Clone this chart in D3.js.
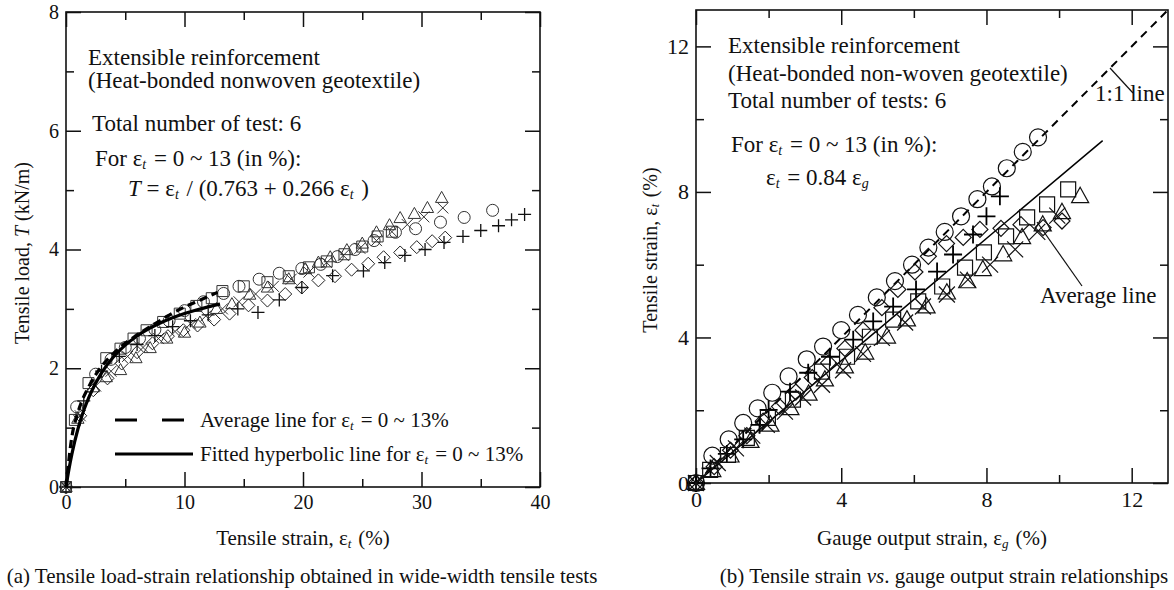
<!DOCTYPE html>
<meta charset="utf-8">
<head>
<script src="https://cdn.jsdelivr.net/npm/d3@7"></script>
<style>
body { margin: 0; background: #fff; }
text { font-family: "Liberation Serif", "Times New Roman", serif; fill: #111; }
.axis path { display: none; }
.axis line { stroke: #111; stroke-width: 1.5px; }
.axis text { font-family: "Liberation Serif", serif; fill: #111; }
</style>
</head>
<body>
<svg id="fig" width="1174" height="590"></svg>
<script>

// ---- (a) load-strain data, [strain %, load kN/m] ----
var loadCircle = [[0,0],[0.9,1.35],[2.5,1.9],[3.8,2.15],[5,2.35],[6.2,2.5],[7.5,2.65],[8.7,2.8],[10,2.97],[11.6,3.12],[13.3,3.26],[14.6,3.38],[16.3,3.5],[18,3.6],[19.9,3.68],[21.5,3.75],[22.9,3.88],[24.4,4.0],[26,4.15],[27.8,4.29],[29.5,4.35],[31.6,4.46],[33.6,4.54],[36,4.66]];
var loadSquare = [[0,0],[0.75,1.13],[1.9,1.75],[3.4,2.17],[4.6,2.33],[5.7,2.5],[6.8,2.64],[8.2,2.78],[9.6,2.92],[11,3.05],[12.3,3.18],[13.2,3.3],[15,3.38],[17,3.45],[18.8,3.55],[20.5,3.7],[22,3.8],[23.5,3.92],[25,4.05],[26.3,4.22],[27.5,4.3]];
var loadTriangle = [[0,0],[1.0,1.15],[2.3,1.68],[3.4,1.85],[4.6,1.97],[5.9,2.17],[7.1,2.34],[8.5,2.5],[10,2.6],[11.3,2.77],[12.7,3.0],[14,3.08],[15.5,3.24],[17,3.36],[18.8,3.5],[20.2,3.67],[21.3,3.78],[22.3,3.87],[23.7,3.99],[25,4.1],[26.2,4.29],[27.3,4.41],[28.2,4.53],[29.4,4.6],[30.5,4.7],[31.7,4.87]];
var loadCross = [[0,0],[1.2,1.2],[2.5,1.7],[3.8,1.95],[5.2,2.2],[6.5,2.35],[7.8,2.5],[9.2,2.62],[10.5,2.75],[11.8,2.88],[13.2,3.0],[14.6,3.12],[16,3.25],[17.5,3.38],[19,3.5],[20.5,3.62],[22,3.78],[23.4,3.9],[24.8,4.02],[26.2,4.15],[27.5,4.3],[28.8,4.42],[30.2,4.55],[31.8,4.7]];
var loadDiamond = [[0,0],[1.2,1.2],[2.3,1.63],[3.5,1.83],[4.7,2.08],[6.0,2.27],[7.3,2.42],[8.6,2.54],[9.9,2.64],[11.1,2.72],[12.5,2.82],[13.8,2.92],[15.4,3.06],[17,3.14],[18.5,3.25],[19.9,3.36],[21.3,3.48],[22.7,3.55],[24.1,3.66],[25.5,3.76],[26.8,3.87],[28.2,3.95],[29.6,4.04],[30.9,4.14],[32,4.2]];
var loadPlus = [[0,0],[1.5,1.45],[3,1.95],[4.5,2.2],[6,2.4],[7.5,2.55],[9,2.7],[10.5,2.8],[12,2.9],[14.5,3.0],[16.2,2.94],[18,3.15],[19.9,3.36],[22.5,3.56],[25.1,3.64],[26.9,3.78],[28.6,3.9],[30.3,4.0],[31.9,4.12],[33.5,4.22],[35,4.32],[36.5,4.4],[37.6,4.5],[38.7,4.59]];

// average line and fitted hyperbola, eps = 0 ~ 13 %
var avgStrain = [0, 0.5, 1, 2, 3, 4, 5, 6, 7, 8, 9, 10, 11, 12, 12.8];
var avgLoad = [0, 0.85, 1.25, 1.72, 2.03, 2.25, 2.42, 2.56, 2.69, 2.81, 2.93, 3.03, 3.12, 3.21, 3.28];
var fitStrain = [0, 0.25, 0.5, 1, 1.5, 2, 3, 4, 5, 6, 7, 8, 9, 10, 11, 12, 13];
var fitLoad = [0, 0.301, 0.558, 0.972, 1.291, 1.544, 1.922, 2.189, 2.389, 2.543, 2.667, 2.767, 2.851, 2.921, 2.982, 3.034, 3.080];

// ---- (b) tensile strain vs gauge strain, [gauge %, tensile %] ----
var gaugeCircle = [[0,0],[0.45,0.75],[0.9,1.2],[1.3,1.65],[1.7,2.05],[2.1,2.48],[2.55,2.93],[3.05,3.4],[3.5,3.75],[4.0,4.2],[4.46,4.62],[4.98,5.1],[5.48,5.55],[5.95,6.0],[6.4,6.47],[6.85,6.9],[7.3,7.33],[7.75,7.8],[8.15,8.15],[8.56,8.65],[9.0,9.1],[9.42,9.5]];
var gaugeDiamond = [[0,0],[0.5,0.45],[0.95,0.9],[1.4,1.3],[1.85,1.7],[2.3,2.1],[2.75,2.5],[3.2,2.9],[3.65,3.3],[4.1,3.7],[4.6,4.2],[5.12,4.82],[5.56,5.32],[6.03,5.8],[6.4,6.23],[6.9,6.58],[7.36,6.75],[7.82,6.97],[8.4,7.0],[8.95,7.1],[9.56,7.02],[10.08,7.2]];
var gaugePlus = [[0,0],[0.4,0.4],[0.85,0.8],[1.3,1.2],[1.75,1.6],[2.0,2.01],[2.59,2.51],[3.09,3.03],[3.69,3.47],[4.33,3.94],[4.88,4.44],[5.43,4.85],[6.06,5.32],[6.64,5.81],[7.08,6.28],[7.63,6.83],[8.0,7.33],[8.37,7.88]];
var gaugeSquare = [[0,0],[0.39,0.36],[0.88,0.77],[1.4,1.24],[1.98,1.79],[2.67,2.29],[3.47,3.06],[4.16,3.47],[4.79,4.02],[5.43,4.49],[6.12,4.99],[6.78,5.4],[7.41,5.92],[7.93,6.34],[8.54,6.78],[9.12,7.3],[9.67,7.66],[10.25,8.07]];
var gaugeTriangle = [[0,0],[0.45,0.35],[0.95,0.75],[1.5,1.15],[2.05,1.6],[2.6,2.05],[3.1,2.45],[3.55,2.84],[4.1,3.2],[4.66,3.58],[5.26,4.02],[5.81,4.49],[6.35,4.85],[6.91,5.23],[7.47,5.54],[7.9,5.87],[8.46,6.28],[8.98,6.75],[9.55,7.1],[10.08,7.44],[10.58,7.88]];
var gaugeCross = [[0,0],[0.6,0.55],[1.1,0.95],[1.55,1.3],[1.95,1.6],[2.45,1.96],[2.95,2.35],[3.47,2.7],[4.05,3.1],[4.6,3.55],[5.12,3.99],[5.76,4.41],[6.25,4.85],[6.91,5.18],[7.49,5.59],[8.1,6.0],[8.79,6.42],[9.4,6.9],[9.95,7.35]];

var oneToOneG = [0, 13], oneToOneT = [0, 13];
var avgLineG = [0, 11.2], avgLineT = [0, 9.41];

var svg = d3.select("#fig");

// scales
var xL = d3.scaleLinear().domain([0, 40]).range([66, 540]);
var yL = d3.scaleLinear().domain([0, 8]).range([487, 12]);
var xR = d3.scaleLinear().domain([0, 13]).range([696, 1168]);
var yR = d3.scaleLinear().domain([0, 13]).range([483, 10]);

function markerPath(type, s) {
  var p = d3.path();
  if (type == "circle") {
    p.moveTo(s, 0); p.arc(0, 0, s, 0, 2 * Math.PI);
  } else if (type == "square") {
    p.rect(-s, -s, 2 * s, 2 * s);
  } else if (type == "triangle") {
    p.moveTo(0, -s); p.lineTo(s * 0.95, s * 0.7); p.lineTo(-s * 0.95, s * 0.7); p.closePath();
  } else if (type == "diamond") {
    p.moveTo(0, -s); p.lineTo(s, 0); p.lineTo(0, s); p.lineTo(-s, 0); p.closePath();
  } else if (type == "plus") {
    p.moveTo(-s, 0); p.lineTo(s, 0); p.moveTo(0, -s); p.lineTo(0, s);
  } else if (type == "cross") {
    p.moveTo(-s, -s); p.lineTo(s, s); p.moveTo(s, -s); p.lineTo(-s, s);
  }
  return p.toString();
}

function drawMarkers(data, type, s, x, y, color, width) {
  svg.append("g").selectAll("path")
    .data(data)
    .enter().append("path")
    .attr("transform", function(d) { return "translate(" + x(d[0]) + "," + y(d[1]) + ")"; })
    .attr("d", markerPath(type, s))
    .style("fill", "none")
    .style("stroke", color)
    .style("stroke-width", width);
}

// frame with inward major/minor ticks on all four sides
function drawFrame(x, y, xMajor, xMinor, yMajor, yMinor, fontSize) {
  var x0 = x.range()[0], x1 = x.range()[1], y0 = y.range()[0], y1 = y.range()[1];

  svg.append("g").attr("class", "axis").attr("transform", "translate(0," + y0 + ")")
    .call(d3.axisBottom(x).tickValues(xMajor).tickSize(-15).tickPadding(8).tickFormat(d3.format("d")))
    .selectAll("text").style("font-size", fontSize + "px");
  svg.append("g").attr("class", "axis").attr("transform", "translate(0," + y0 + ")")
    .call(d3.axisBottom(x).tickValues(xMinor).tickSize(-8).tickFormat(""));
  svg.append("g").attr("class", "axis").attr("transform", "translate(0," + y1 + ")")
    .call(d3.axisTop(x).tickValues(xMajor).tickSize(-15).tickFormat(""));
  svg.append("g").attr("class", "axis").attr("transform", "translate(0," + y1 + ")")
    .call(d3.axisTop(x).tickValues(xMinor).tickSize(-8).tickFormat(""));

  svg.append("g").attr("class", "axis").attr("transform", "translate(" + x0 + ",0)")
    .call(d3.axisLeft(y).tickValues(yMajor).tickSize(-15).tickPadding(7).tickFormat(d3.format("d")))
    .selectAll("text").style("font-size", fontSize + "px");
  svg.append("g").attr("class", "axis").attr("transform", "translate(" + x0 + ",0)")
    .call(d3.axisLeft(y).tickValues(yMinor).tickSize(-8).tickFormat(""));
  svg.append("g").attr("class", "axis").attr("transform", "translate(" + x1 + ",0)")
    .call(d3.axisRight(y).tickValues(yMajor).tickSize(-15).tickFormat(""));
  svg.append("g").attr("class", "axis").attr("transform", "translate(" + x1 + ",0)")
    .call(d3.axisRight(y).tickValues(yMinor).tickSize(-8).tickFormat(""));

  svg.append("rect")
    .attr("x", x0).attr("y", y1)
    .attr("width", x1 - x0).attr("height", y0 - y1)
    .style("fill", "none").style("stroke", "#111").style("stroke-width", 1.6);
}

// write a line of text; parts are [string, style] where style is "", "i" (italic) or "sub"
function richText(x, y, size, parts, anchor, rotate) {
  var t = svg.append("text")
    .attr("x", x).attr("y", y)
    .style("font-size", size + "px")
    .attr("text-anchor", anchor || "start");
  if (rotate) t.attr("transform", "rotate(-90," + x + "," + y + ")");
  parts.forEach(function(p) {
    var s = t.append("tspan").text(p[0]);
    if (p[1] == "i") s.style("font-style", "italic");
    if (p[1] == "sub") {
      s.style("font-style", "italic").style("font-size", Math.round(size * 0.62) + "px").attr("dy", size * 0.12);
      t.append("tspan").attr("dy", -size * 0.12).text("\u200a");
    }
  });
  return t;
}

// ================= (a) =================
drawFrame(xL, yL, [0, 10, 20, 30, 40], [5, 15, 25, 35], [0, 2, 4, 6, 8], [1, 3, 5, 7], 20);

drawMarkers(loadCircle, "circle", 6, xL, yL, "#333", 1);
drawMarkers(loadSquare, "square", 5.5, xL, yL, "#333", 1);
drawMarkers(loadTriangle, "triangle", 6.5, xL, yL, "#333", 1);
drawMarkers(loadCross, "cross", 5.5, xL, yL, "#333", 1);
drawMarkers(loadDiamond, "diamond", 6.5, xL, yL, "#222", 1);
drawMarkers(loadPlus, "plus", 6.5, xL, yL, "#111", 1.3);

var lineL = d3.line().x(function(d) { return xL(d[0]); }).y(function(d) { return yL(d[1]); }).curve(d3.curveMonotoneX);

svg.append("path")
  .datum(avgStrain.map(function(v, i) { return [v, avgLoad[i]]; }))
  .attr("d", lineL)
  .style("fill", "none").style("stroke", "#000").style("stroke-width", 3.2)
  .style("stroke-dasharray", "8,5");
svg.append("path")
  .datum(fitStrain.map(function(v, i) { return [v, fitLoad[i]]; }))
  .attr("d", lineL)
  .style("fill", "none").style("stroke", "#000").style("stroke-width", 3.2);

// legend
svg.append("line").attr("x1", 115).attr("x2", 187).attr("y1", 420).attr("y2", 420)
  .style("stroke", "#000").style("stroke-width", 3.2).style("stroke-dasharray", "22,25");
svg.append("line").attr("x1", 115).attr("x2", 193).attr("y1", 454).attr("y2", 454)
  .style("stroke", "#000").style("stroke-width", 3.2);
richText(200, 427, 21, [["Average line for \u03b5", ""], ["t", "sub"], [" = 0 ~ 13%", ""]]);
richText(200, 461, 21, [["Fitted hyperbolic line for \u03b5", ""], ["t", "sub"], [" = 0 ~ 13%", ""]]);

// annotations
richText(88, 65, 23, [["Extensible reinforcement", ""]]);
richText(88, 88, 23, [["(Heat-bonded nonwoven geotextile)", ""]]);
richText(92, 131, 23, [["Total number of test: 6", ""]]);
richText(95, 166, 23, [["For \u03b5", ""], ["t", "sub"], [" = 0 ~ 13 (in %):", ""]]);
richText(128, 196, 23, [["T", "i"], [" = \u03b5", ""], ["t", "sub"], [" / (0.763 + 0.266 \u03b5", ""], ["t", "sub"], [" )", ""]]);

richText(303, 545, 21, [["Tensile strain, \u03b5", ""], ["t", "sub"], [" (%)", ""]], "middle");
richText(29, 253, 20, [["Tensile load, ", ""], ["T", "i"], [" (kN/m)", ""]], "middle", true);
richText(302, 583, 21, [["(a) Tensile load-strain relationship obtained in wide-width tensile tests", ""]], "middle");

// ================= (b) =================
drawFrame(xR, yR, [0, 4, 8, 12], [2, 6, 10], [0, 4, 8, 12], [2, 6, 10], 22);

var lineR = d3.line().x(function(d) { return xR(d[0]); }).y(function(d) { return yR(d[1]); });

svg.append("path")
  .datum(oneToOneG.map(function(v, i) { return [v, oneToOneT[i]]; }))
  .attr("d", lineR)
  .style("fill", "none").style("stroke", "#000").style("stroke-width", 2)
  .style("stroke-dasharray", "8,6");
svg.append("path")
  .datum(avgLineG.map(function(v, i) { return [v, avgLineT[i]]; }))
  .attr("d", lineR)
  .style("fill", "none").style("stroke", "#000").style("stroke-width", 1.5);

drawMarkers(gaugeCircle, "circle", 8.5, xR, yR, "#111", 1.2);
drawMarkers(gaugeDiamond, "diamond", 8, xR, yR, "#111", 1.2);
drawMarkers(gaugePlus, "plus", 9, xR, yR, "#000", 1.8);
drawMarkers(gaugeSquare, "square", 7.5, xR, yR, "#111", 1.2);
drawMarkers(gaugeTriangle, "triangle", 9, xR, yR, "#111", 1.2);
drawMarkers(gaugeCross, "cross", 8, xR, yR, "#111", 1.2);

// leaders
svg.append("line").attr("x1", 1110).attr("y1", 68).attr("x2", 1133).attr("y2", 93)
  .style("stroke", "#111").style("stroke-width", 1.2);
svg.append("line").attr("x1", 1037).attr("y1", 222).attr("x2", 1082).attr("y2", 286)
  .style("stroke", "#111").style("stroke-width", 1.2);

richText(1095, 101, 23, [["1:1 line", ""]]);
richText(1040, 303, 23, [["Average line", ""]]);

richText(728, 53, 23, [["Extensible reinforcement", ""]]);
richText(728, 81, 23, [["(Heat-bonded non-woven geotextile)", ""]]);
richText(728, 108, 23, [["Total number of tests: 6", ""]]);
richText(731, 152, 23, [["For \u03b5", ""], ["t", "sub"], [" = 0 ~ 13 (in %):", ""]]);
richText(766, 185, 23, [["\u03b5", ""], ["t", "sub"], [" = 0.84 \u03b5", ""], ["g", "sub"]]);

richText(932, 545, 21, [["Gauge output strain, \u03b5", ""], ["g", "sub"], [" (%)", ""]], "middle");
richText(657, 250, 20, [["Tensile strain, \u03b5", ""], ["t", "sub"], [" (%)", ""]], "middle", true);
richText(944, 583, 21, [["(b) Tensile strain ", ""], ["vs", "i"], [". gauge output strain relationships", ""]], "middle");

</script>
</body>
